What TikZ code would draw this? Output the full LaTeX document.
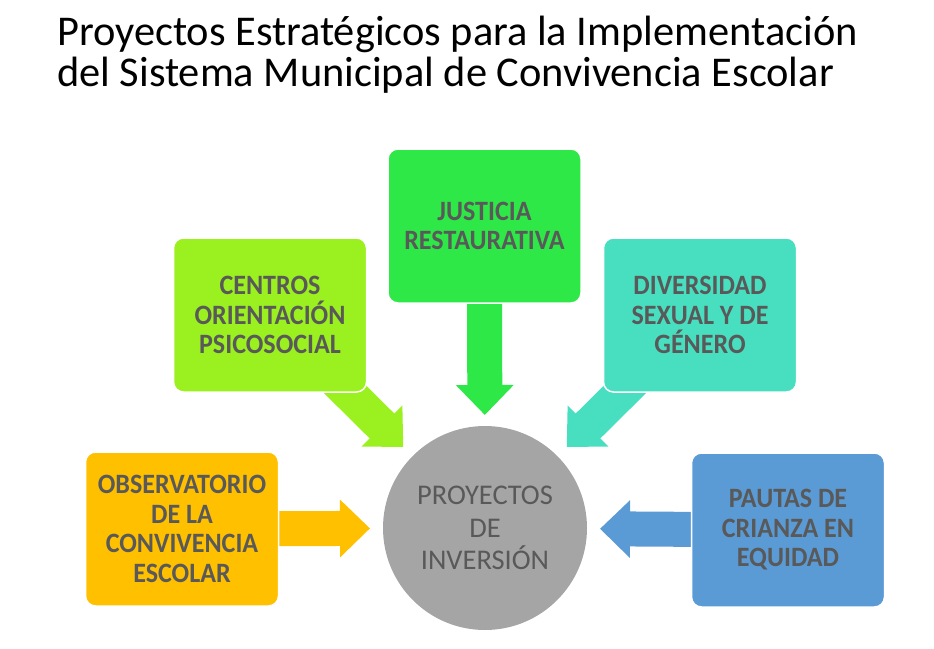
\documentclass[tikz,border=0pt]{standalone}
\usepackage{fontspec}
\setmainfont{Carlito}
\newfontfamily\cajafont[FakeStretch = 0.93]{Carlito}
\usetikzlibrary{arrows.meta,backgrounds}
\definecolor{texto}{HTML}{595959}
\definecolor{justicia}{HTML}{2EE847}
\definecolor{centros}{HTML}{9BF01F}
\definecolor{diversidad}{HTML}{48DFC0}
\definecolor{observatorio}{HTML}{FFC000}
\definecolor{pautas}{HTML}{5B9BD5}
\definecolor{proyectos}{HTML}{A5A5A5}
\begin{document}
\begin{tikzpicture}[x = 1pt, y = -1pt,
		caja/.style = {shape = rectangle, rounded corners = 10pt, draw = white, line width = 1.5pt, minimum width = 193pt, minimum height = 154pt, align = center, text = texto, font = \cajafont\fontsize{28}{29.5}\selectfont\bfseries},
		flecha/.style = {line width = 35pt, -{Triangle[length = 30pt, width = 56pt]}, shorten > = 13pt}
	]
		\useasboundingbox (0, 0) rectangle (934, 648);
		\node[anchor = north west, inner sep = 0pt, align = left, font = \fontsize{42.4}{40.5}\selectfont] (titulo) at (57, 16) {Proyectos Estratégicos para la Implementación\\del Sistema Municipal de Convivencia Escolar};
		\node[caja, fill = justicia] (jus) at (484.5, 226) {JUSTICIA\\RESTAURATIVA};
		\node[caja, fill = centros] (cen) at (270, 315) {CENTROS\\ORIENTACIÓN\\PSICOSOCIAL};
		\node[caja, fill = diversidad] (div) at (700, 315) {DIVERSIDAD\\SEXUAL Y DE\\GÉNERO};
		\node[caja, fill = observatorio] (obs) at (182, 529) {OBSERVATORIO\\DE LA\\CONVIVENCIA\\ESCOLAR};
		\node[caja, fill = pautas] (pau) at (788, 530) {PAUTAS DE\\CRIANZA EN\\EQUIDAD};
		\node[shape = circle, fill = proyectos, minimum size = 204pt, inner sep = 0pt, outer sep = 0pt, align = center, text = texto, font = \fontsize{28.5}{32.5}\selectfont] (proj) at (485, 528) {PROYECTOS\\DE\\INVERSIÓN};
		\begin{scope}[on background layer]
			\draw[flecha, justicia, shorten > = 11pt] (jus.center) -- (proj);
			\draw[flecha, centros] (cen.center) -- (proj);
			\draw[flecha, diversidad] (div.center) -- (proj);
			\draw[flecha, observatorio] (obs.center) -- (proj);
			\draw[flecha, pautas] (pau.center) -- (proj);
		\end{scope}
\end{tikzpicture}
\end{document}
